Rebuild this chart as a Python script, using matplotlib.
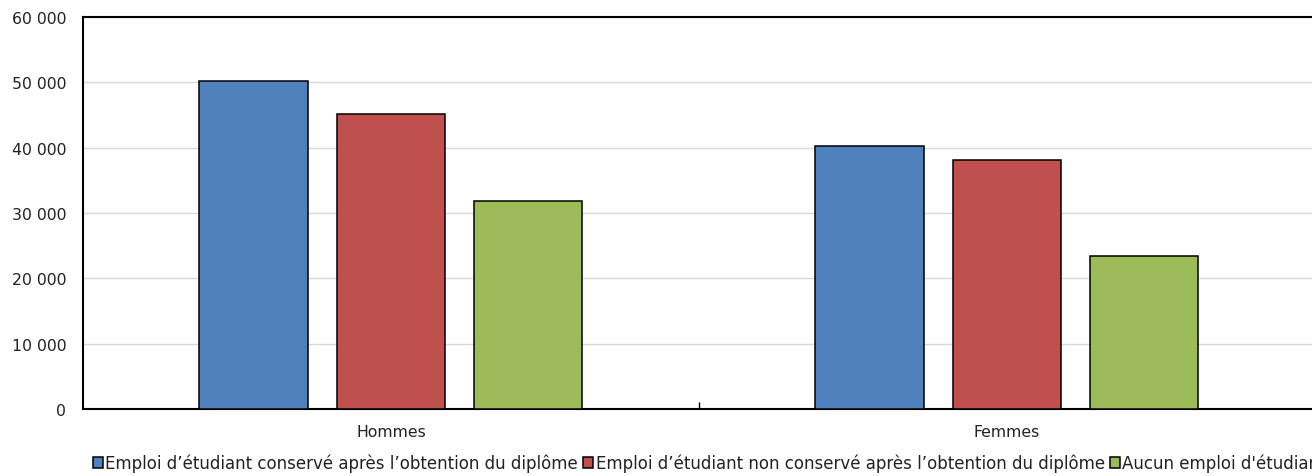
import matplotlib.pyplot as plt
import numpy as np

categories = ["Hommes", "Femmes"]
series = [
    "Emploi d\u2019étudiant conservé après l\u2019obtention du diplôme",
    "Emploi d\u2019étudiant non conservé après l\u2019obtention du diplôme",
    "Aucun emploi d'étudiant",
]
conserve = [50200, 40250]
non_conserve = [45150, 38100]
aucun = [31800, 23450]
colors = ["#4F81BD", "#C0504D", "#9BBB59"]

plt.rcParams['font.family'] = ['DejaVu Sans']

fig = plt.figure(figsize=(13.12, 4.77), dpi=100)
ax = fig.add_axes([83/1312, 1 - 410/477, 1.002 - 83/1312, (410 - 18)/477])

x = np.arange(len(categories))
width = 0.176
step = 0.223
for i, vals in enumerate([conserve, non_conserve, aucun]):
    ax.bar(x + (i - 1) * step, vals, width, color=colors[i],
           edgecolor='black', linewidth=1.1, label=series[i], zorder=3)

ax.set_xlim(-0.5, 1.5)
ax.set_ylim(0, 60000)
ax.set_yticks(range(0, 60001, 10000))
ax.set_yticklabels([f"{v:,}".replace(",", " ") for v in range(0, 60001, 10000)])
ax.yaxis.grid(True, color='#d9d9d9', linewidth=1, zorder=0)
ax.tick_params(axis='y', length=0, pad=12, labelsize=11.3, labelcolor='#222222')

ax.set_xticks(x)
ax.set_xticklabels(categories)
ax.tick_params(axis='x', length=0, pad=11, labelsize=11.3, labelcolor='#222222')
ax.set_xticks([0.5], minor=True)
ax.tick_params(axis='x', which='minor', direction='in', length=5, width=1)

for s in ['left', 'bottom', 'top']:
    ax.spines[s].set_linewidth(1.5)
ax.spines['right'].set_visible(False)

fig.legend(loc='center left', bbox_to_anchor=(93/1312, 1 - 464/477), ncol=3,
           frameon=False, fontsize=12, handlelength=0.6, handleheight=0.6,
           handletextpad=0.15, columnspacing=0.3, borderpad=0, borderaxespad=0,
           labelcolor='#222222')

fig.savefig("out.png", dpi=100)
